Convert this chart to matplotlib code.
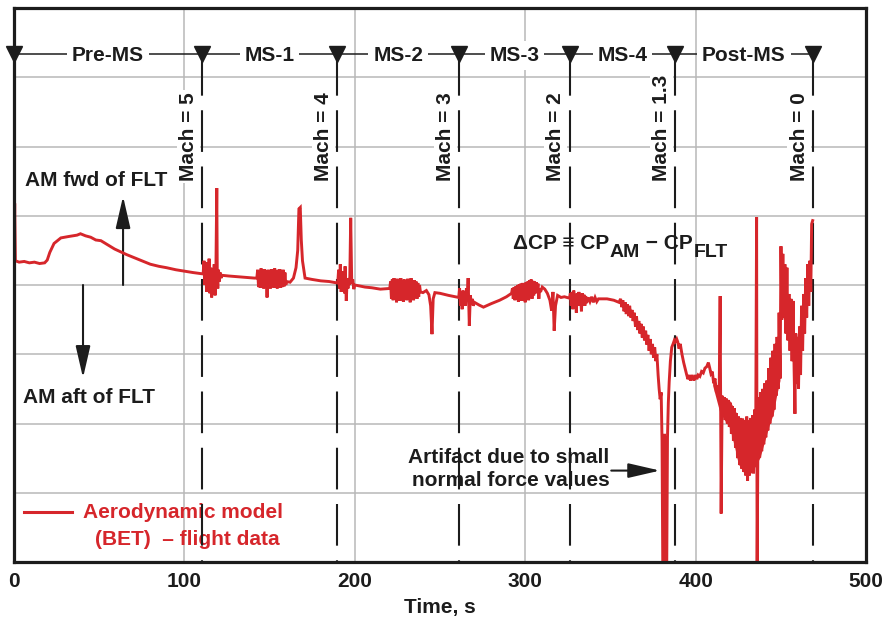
import matplotlib
matplotlib.use("Agg")
import matplotlib.pyplot as plt

plt.rcParams['font.family'] = ['Liberation Sans', 'DejaVu Sans']
plt.rcParams['font.weight'] = 'bold'

RED = '#d6262b'
INK = '#1c1c1c'
GRID = '#b8b8b8'

# ---------------- data (time s, delta CP) ----------------
pre_ms = [(0.0, 0.35), (0.4, 1.18), (0.8, 0.35), (3, 0.33), (6, 0.34), (9, 0.32), (12, 0.33),
          (15, 0.31), (18, 0.32), (19.5, 0.36), (21, 0.47), (23.5, 0.60), (27.5, 0.68),
          (32, 0.70), (37, 0.72), (39, 0.74), (42, 0.71), (45, 0.69), (48, 0.65), (51, 0.64),
          (54.3, 0.59), (59, 0.52), (66, 0.44), (73, 0.37), (80, 0.30), (85, 0.27),
          (89.5, 0.25), (95, 0.22), (100, 0.20), (105, 0.18), (110.7, 0.16)]

ms1 = [(111.0, 0.16), (111.5, 0.35), (112.0, 0.0), (112.5, 0.33), (113.0, -0.10), (113.5, 0.30),
       (114.0, 0.05), (114.5, 0.38), (115.0, -0.12), (115.5, 0.25), (116.0, -0.18), (116.5, 0.20),
       (117.0, 0.0), (117.5, 0.30), (118.0, -0.15), (118.5, 0.22), (119.0, 1.40), (119.3, 0.10),
       (119.6, -0.05), (120.0, 0.22), (120.5, 0.05), (121.0, 0.18), (121.5, 0.10), (122.0, 0.14),
       (126, 0.13), (131, 0.12), (136, 0.11), (141, 0.10),
       (142.5, 0.10), (143, 0.22), (143.5, -0.03), (144, 0.20), (144.5, -0.04), (145, 0.24),
       (145.5, -0.02), (146, 0.21), (146.5, -0.05), (147, 0.23), (147.5, 0.0), (148, 0.20),
       (148.5, -0.18), (149, 0.22), (149.5, -0.03), (150, 0.19), (150.5, -0.05), (151, 0.23),
       (151.5, -0.02), (152, 0.21), (152.5, -0.04), (153, 0.24), (153.5, -0.03), (154, 0.20),
       (154.5, -0.05), (155, 0.22), (155.5, -0.01), (156, 0.23), (156.5, -0.04), (157, 0.20),
       (157.5, -0.03), (158, 0.22), (158.5, -0.02), (159, 0.18), (159.5, 0.0), (160, 0.05),
       (162, 0.04), (164, 0.10), (165.5, 0.25), (166.5, 0.50), (167.2, 1.10), (168.0, 1.12),
       (168.6, 0.65), (169.3, 0.35), (170.8, 0.10), (175, 0.08), (180, 0.06), (185, 0.05),
       (189.5, 0.03)]

ms2 = [(190.0, 0.03), (190.5, 0.22), (191.0, -0.05), (191.5, 0.30), (192.0, -0.10), (192.5, 0.20),
       (193.0, -0.02), (193.5, 0.15), (194.0, -0.12), (194.3, 0.27), (195.0, -0.23), (195.5, 0.08),
       (196.0, -0.05), (196.5, 0.10), (197.0, 0.0), (197.6, 0.97), (198.2, 0.02), (198.8, 0.08),
       (199.4, -0.06), (200.0, 0.0), (202, -0.01), (206, -0.03), (210, -0.04), (215, -0.06),
       (220, -0.05),
       (220.5, -0.05), (221.0, 0.05), (221.5, -0.20), (222.0, 0.08), (222.5, -0.22), (223.0, 0.10),
       (223.5, -0.18), (224.0, 0.06), (224.5, -0.25), (225.0, 0.09), (225.5, -0.20), (226.0, 0.04),
       (226.5, -0.23), (227.0, 0.10), (227.5, -0.19), (228.0, 0.07), (228.5, -0.24), (229.0, 0.08),
       (229.5, -0.20), (230.0, 0.05), (230.5, -0.22), (231.0, 0.09), (231.5, -0.21), (232.0, 0.06),
       (232.5, -0.25), (233.0, 0.10), (233.5, -0.20), (234.0, 0.04), (234.5, -0.22), (235.0, 0.07),
       (235.5, -0.18), (236.0, 0.05), (236.5, -0.20), (237.0, 0.03), (237.5, -0.17), (238.0, 0.0),
       (238.5, -0.10),
       (240, -0.11), (242, -0.08), (243.5, -0.14), (244.5, -0.30), (245.3, -0.71), (246.0, -0.20),
       (247, -0.11), (250, -0.12), (255, -0.15), (261, -0.18)]

ms3 = [(261.5, -0.05), (262.0, -0.30), (262.5, -0.10), (263.0, -0.35), (263.5, -0.08),
       (264.0, -0.25), (264.5, -0.12), (265.0, -0.30), (265.5, -0.05), (266.0, -0.20),
       (266.5, 0.10), (267.2, -0.59), (267.8, -0.15), (268.5, -0.28), (269.0, -0.20),
       (269.5, -0.30), (270.2, -0.25), (273, -0.29), (275.5, -0.32), (280, -0.27), (285, -0.22),
       (289, -0.17), (292, -0.12),
       (292.5, -0.05), (293, -0.20), (293.5, -0.03), (294, -0.22), (294.5, -0.02), (295, -0.18),
       (295.5, 0.0), (296, -0.24), (296.5, 0.01), (297, -0.20), (297.5, 0.02), (298, -0.23),
       (298.5, 0.03), (299, -0.19), (299.5, 0.02), (300, -0.25), (300.5, 0.04), (301, -0.20),
       (301.5, 0.05), (302, -0.22), (302.5, 0.07), (303, -0.18), (303.5, 0.08), (304, -0.20),
       (304.5, 0.06), (305, -0.15), (305.5, 0.05), (306, -0.12), (306.5, 0.04), (307, -0.10),
       (307.5, 0.02), (308, -0.20), (308.5, -0.05), (309, -0.10),
       (310, -0.03), (311.5, -0.06), (313, -0.12), (314.5, -0.22), (315.5, -0.37), (316.3, -0.10),
       (317.0, -0.66), (317.8, -0.30), (319, -0.15), (321, -0.18), (323, -0.17), (326, -0.19)]

ms4 = [(326.5, -0.12), (327, -0.30), (327.5, -0.10), (328, -0.35), (328.5, -0.08), (329, -0.28),
       (329.5, -0.15), (330, -0.40), (330.5, -0.12), (331, -0.30), (331.5, -0.10), (332, -0.25),
       (332.5, -0.15), (333, -0.38), (333.5, -0.12), (334, -0.28), (334.5, -0.14), (335, -0.30),
       (335.5, -0.16), (336, -0.26), (337, -0.18), (338, -0.24), (339, -0.17), (340, -0.25),
       (341, -0.18), (342, -0.24), (343, -0.20), (345, -0.20), (348, -0.20), (352, -0.22),
       (355, -0.25), (356, -0.20), (356.7, -0.32), (357.3, -0.22), (358, -0.38), (358.7, -0.25),
       (359.3, -0.42), (360, -0.28), (360.7, -0.45), (361.3, -0.30), (362, -0.47), (362.7, -0.36),
       (363.3, -0.52), (364, -0.40), (364.7, -0.60), (365.3, -0.45), (366, -0.65), (366.7, -0.52),
       (367.3, -0.70), (368, -0.56), (368.7, -0.76), (369.3, -0.60), (370, -0.80), (370.7, -0.66),
       (371.3, -0.86), (372, -0.72), (372.7, -0.95), (373.3, -0.78), (374, -1.00), (374.7, -0.85),
       (375.3, -1.05), (376, -0.90), (376.7, -1.10), (377.3, -1.00), (378, -1.30), (378.6, -1.50),
       (379.2, -1.65), (379.8, -1.55), (380.3, -2.25), (380.8, -4.30), (381.3, -4.30),
       (381.7, -2.15), (382.1, -2.30), (382.5, -4.30), (383.0, -4.30), (383.5, -2.20),
       (384.0, -1.70), (384.5, -1.40), (385.2, -1.10), (386.0, -0.90), (386.8, -0.85),
       (387.5, -0.80), (388.0, -0.82)]

post_ms = [(388.9, -0.78), (389.5, -0.82), (390.3, -0.92), (391, -0.85), (392, -1.00),
           (393, -1.12), (394, -1.22), (394.7, -1.29), (395.5, -1.36), (396.3, -1.30),
           (397, -1.38), (398, -1.30), (399, -1.38), (400, -1.30), (400.7, -1.36),
           (401.5, -1.30), (402.5, -1.32), (403.5, -1.25), (404.5, -1.27), (405.5, -1.20),
           (406.5, -1.18), (407.5, -1.12), (408.3, -1.20), (409, -1.28), (409.8, -1.25),
           (410.6, -1.42), (411.4, -1.35), (412.2, -1.55), (413, -1.45), (413.8, -1.65),
           (414.4, -0.16), (415.0, -3.30), (415.6, -1.60), (416.2, -1.85), (416.8, -1.62),
           (417.4, -1.95), (418, -1.64), (418.6, -2.00), (419.2, -1.66), (419.8, -2.05),
           (420.4, -1.70), (421, -2.15), (421.6, -1.75), (422.2, -2.25), (422.8, -1.78),
           (423.4, -2.35), (424, -1.85), (424.6, -2.50), (425.2, -1.90), (425.8, -2.60),
           (426.4, -1.92), (427, -2.65), (427.6, -1.93), (428.2, -2.70), (428.8, -1.95),
           (429.4, -2.75), (430, -1.90), (430.5, -2.83), (431, -1.96), (431.6, -2.75),
           (432.2, -1.92), (432.8, -2.70), (433.4, -1.88), (434, -2.72), (434.6, -1.80),
           (435.2, -2.62), (435.8, 0.98), (436.1, -4.30), (436.5, -2.50), (437, -1.62),
           (437.6, -2.49), (438.2, -1.55), (438.8, -2.40), (439.4, -1.50), (440, -2.30),
           (440.6, -1.42), (441.2, -2.20), (441.8, -1.38), (442.4, -2.10), (443, -1.20),
           (443.6, -2.00), (444.2, -1.05), (444.8, -1.90), (445.4, -0.95), (446, -1.80),
           (446.6, -0.85), (447.2, -1.60), (447.8, -0.75), (448.4, -1.50), (449, -0.40),
           (449.6, -1.35), (450.1, 0.56),
           (450.6, -0.50), (451.2, 0.45), (451.8, -0.47), (452.4, 0.30), (453, -0.70),
           (453.6, 0.25), (454.2, -0.80), (454.8, -0.13), (455.4, -0.95), (456, -0.20),
           (456.6, -1.10), (457.2, -0.23), (457.8, -1.20), (458.3, -1.86), (458.8, -0.70),
           (459.4, -1.43), (460, -0.75), (460.4, -1.50), (461, -0.60), (461.6, -1.30),
           (462.2, -0.30), (462.8, -0.95), (463.4, -0.13), (464, -0.70), (464.6, 0.10),
           (465.2, -0.47), (465.8, 0.30), (466.4, -0.30), (467, 0.35), (467.6, -0.10),
           (468.1, 0.88), (468.7, 0.93)]

# dense noise envelope of the post-MS "V" (time, upper, lower)
v_band_t = [410, 414, 417, 420, 423, 425, 428, 430, 433, 435, 437.8, 440, 441.7, 443.5,
            445.6, 447.5, 449.5]
v_band_hi = [-1.30, -1.55, -1.62, -1.67, -1.80, -1.91, -1.94, -1.96, -1.90, -1.75, -1.57,
             -1.45, -1.38, -1.15, -0.95, -0.80, -0.66]
v_band_lo = [-1.45, -1.82, -1.95, -2.06, -2.35, -2.58, -2.70, -2.78, -2.70, -2.62, -2.49,
             -2.30, -2.15, -2.00, -1.86, -1.60, -1.38]

mach_times = [110.3, 189.6, 261.4, 326.0, 388.0, 468.7]
mach_labels = ['Mach = 5', 'Mach = 4', 'Mach = 3', 'Mach = 2', 'Mach = 1.3', 'Mach = 0']
phase_labels = ['Pre-MS', 'MS-1', 'MS-2', 'MS-3', 'MS-4', 'Post-MS']
x_ticks = [0, 100, 200, 300, 400, 500]

# ---------------- figure ----------------
fig = plt.figure(figsize=(8.86, 6.2), dpi=100)
ax = fig.add_axes([14 / 886, 58 / 620, 852 / 886, 554 / 620])
ax.set_xlim(0, 500)
ax.set_ylim(-4, 4)

for gx in x_ticks[1:-1]:
    ax.axvline(gx, color=GRID, lw=1.1, zorder=0.5)
for gy in range(-3, 4):
    ax.axhline(gy, color=GRID, lw=1.1, zorder=0.5)

for s in ax.spines.values():
    s.set_linewidth(2.3)
    s.set_color(INK)
    s.set_zorder(6)

ax.set_xticks(x_ticks)
ax.set_xticklabels([str(v) for v in x_ticks])
ax.set_yticks([])
ax.tick_params(axis='x', length=0, pad=7, labelsize=15, colors=INK)
for lab in ax.get_xticklabels():
    lab.set_fontweight('bold')
ax.set_xlabel('Time, s', fontsize=15, fontweight='bold', labelpad=5, color=INK)

# data
series = pre_ms + ms1 + ms2 + ms3 + ms4 + post_ms
ts = [p[0] for p in series]
vs = [p[1] for p in series]
ax.plot(ts, vs, color=RED, lw=2.1, zorder=4, solid_joinstyle='miter')
ax.fill_between(v_band_t, v_band_lo, v_band_hi, color=RED, lw=0, zorder=4)

# phase header
HY = 3.34
bounds = [0.0] + mach_times
ax.plot([bounds[0], bounds[-1]], [HY, HY], color=INK, lw=1.1, zorder=3)
ax.plot(bounds, [HY] * len(bounds), 'v', color=INK, ms=11, zorder=5, clip_on=False)
for i, name in enumerate(phase_labels):
    mid = (bounds[i] + bounds[i + 1]) / 2
    ax.text(mid, HY - 0.108, name, ha='center', va='baseline', fontsize=15,
            fontweight='bold', color=INK, zorder=4,
            bbox=dict(fc='white', ec='none', pad=3.5))

# Mach lines and labels
for t, lab in zip(mach_times, mach_labels):
    ax.plot([t, t], [HY, -4], color=INK, lw=1.5, ls=(0, (20, 7)), zorder=3.5)
    ax.text(t - 2.4, 1.5, lab, rotation=90, ha='right', va='bottom', fontsize=15,
            fontweight='bold', color=INK, zorder=3,
            bbox=dict(fc='white', ec='none', pad=1.5))

# annotations
arrow_style = '-|>,head_length=1.3,head_width=0.3'
ax.text(6.4, 1.43, 'AM fwd of FLT', fontsize=15, fontweight='bold', va='baseline', color=INK)
ax.text(5.3, -1.70, 'AM aft of FLT', fontsize=15, fontweight='bold', va='baseline', color=INK)
ax.annotate('', xy=(64.0, 1.28), xytext=(64.0, 0.0),
            arrowprops=dict(arrowstyle=arrow_style, color=INK, lw=1.5, mutation_scale=15,
                            shrinkA=0, shrinkB=0))
ax.annotate('', xy=(40.5, -1.34), xytext=(40.5, 0.0),
            arrowprops=dict(arrowstyle=arrow_style, color=INK, lw=1.5, mutation_scale=15,
                            shrinkA=0, shrinkB=0))

t1 = ax.text(292.8, 0.52, '\u0394CP \u2261 CP', fontsize=15, fontweight='bold',
             va='baseline', color=INK)
t2 = ax.annotate('AM', xy=(1, 0), xycoords=t1, xytext=(0.5, -2.6), textcoords='offset points',
                 fontsize=14, fontweight='bold', va='baseline', color=INK)
t3 = ax.annotate(' \u2212 CP', xy=(1, 0), xycoords=(t2, t1), fontsize=15, fontweight='bold',
                 va='bottom', color=INK)
t4 = ax.annotate('FLT', xy=(1, 0), xycoords=(t3, t2), xytext=(0.5, 0),
                 textcoords='offset points', fontsize=14, fontweight='bold', va='bottom',
                 color=INK)

ax.text(349.5, -2.565, 'Artifact due to small', fontsize=15, fontweight='bold',
        ha='right', va='baseline', color=INK)
ax.text(349.5, -2.896, 'normal force values', fontsize=15, fontweight='bold',
        ha='right', va='baseline', color=INK)
ax.annotate('', xy=(379.1, -2.68), xytext=(350.5, -2.68),
            arrowprops=dict(arrowstyle=arrow_style, color=INK, lw=1.5, mutation_scale=15,
                            shrinkA=0, shrinkB=0))

# legend
ax.plot([5.9, 34.0], [-3.28, -3.28], color=RED, lw=2.2, zorder=4)
ax.text(40.5, -3.37, 'Aerodynamic model', fontsize=15, fontweight='bold', color=RED,
        va='baseline')
ax.text(47.5, -3.75, '(BET)  \u2013 flight data', fontsize=15, fontweight='bold', color=RED,
        va='baseline')

fig.savefig('out.png', dpi=100)
